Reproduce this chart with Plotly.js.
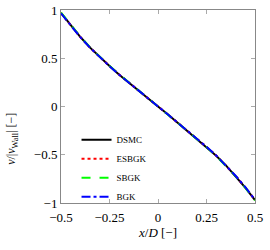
<!DOCTYPE html>
<html>
<head>
<meta charset="utf-8">
<script src="https://cdn.plot.ly/plotly-3.0.1.min.js"></script>
<style>html,body{margin:0;padding:0;background:#fff;}#chart{width:270px;height:250px;}</style>
</head>
<body>
<div id="chart"></div>
<script>
const xPos = [-0.5,-0.45,-0.4,-0.35,-0.3,-0.25,-0.2,-0.15,-0.1,-0.05,0,0.05,0.1,0.15,0.2,0.25,0.3,0.35,0.4,0.45,0.5];
const vDSMC  = [0.97,0.84,0.72,0.61,0.51,0.42,0.33,0.245,0.165,0.08,0.0,-0.08,-0.165,-0.245,-0.33,-0.42,-0.51,-0.61,-0.72,-0.84,-0.97];
const vESBGK = [0.968,0.838,0.719,0.609,0.509,0.419,0.331,0.246,0.164,0.081,0.0,-0.081,-0.164,-0.246,-0.331,-0.419,-0.509,-0.609,-0.719,-0.838,-0.968];
const vSBGK  = [0.972,0.842,0.722,0.612,0.512,0.421,0.332,0.247,0.165,0.082,0.0,-0.082,-0.165,-0.247,-0.332,-0.421,-0.512,-0.612,-0.722,-0.842,-0.972];
const vBGK   = [0.966,0.836,0.718,0.608,0.508,0.418,0.330,0.245,0.163,0.081,0.0,-0.081,-0.163,-0.245,-0.330,-0.418,-0.508,-0.608,-0.718,-0.836,-0.966];
const seriesNames = ['DSMC','ESBGK','SBGK','BGK'];
const xTicks = [-0.5,-0.25,0,0.25,0.5];
const xTickText = ['−0.5','−0.25','0','0.25','0.5'];
const yTicks = [-1,-0.5,0,0.5,1];
const yTickText = ['−1','−0.5','0','0.5','1'];

const serif = 'Liberation Serif, DejaVu Serif, serif';
const traces = [
  {x:xPos, y:vDSMC, name:seriesNames[0], mode:'lines', line:{color:'#000000', width:2, dash:'solid'}},
  {x:xPos, y:vESBGK, name:seriesNames[1], mode:'lines', line:{color:'#ff0000', width:2, dash:'dot'}},
  {x:xPos, y:vSBGK, name:seriesNames[2], mode:'lines', line:{color:'#00ff00', width:2, dash:'dash'}},
  {x:xPos, y:vBGK, name:seriesNames[3], mode:'lines', line:{color:'#0000ff', width:2, dash:'dashdot'}}
];
const axisCommon = {
  showgrid:false, zeroline:false, showline:true, linecolor:'#888888', linewidth:1,
  mirror:'ticks', ticks:'inside', ticklen:4, tickcolor:'#aaaaaa',
  tickfont:{family:serif, size:13, color:'#000'}
};
const layout = {
  width:270, height:250,
  margin:{l:61, r:15, t:10, b:47},
  paper_bgcolor:'#fff', plot_bgcolor:'#fff',
  showlegend:true,
  legend:{x:0.08, y:0.18, xanchor:'left', yanchor:'middle', bgcolor:'rgba(0,0,0,0)',
          font:{family:serif, size:9, color:'#000'}, tracegroupgap:0, itemwidth:30},
  xaxis:Object.assign({}, axisCommon, {range:[-0.5,0.5], tickvals:xTicks, ticktext:xTickText,
          ticklabelstandoff:2,
          title:{text:'<i>x</i>/<i>D</i> [−]', font:{family:serif, size:13, color:'#000'}, standoff:4}}),
  yaxis:Object.assign({}, axisCommon, {range:[-1,1], tickvals:yTicks, ticktext:yTickText}),
  annotations:[{
    text:'<i>v</i>/|<i>v</i><sub>Wall</sub>| [−]', textangle:-90,
    xref:'paper', yref:'paper', x:-0.25, y:0.33, xanchor:'center', yanchor:'middle',
    showarrow:false, font:{family:serif, size:12, color:'#000'}
  }]
};
Plotly.newPlot('chart', traces, layout, {displayModeBar:false, staticPlot:true});
</script>
</body>
</html>
